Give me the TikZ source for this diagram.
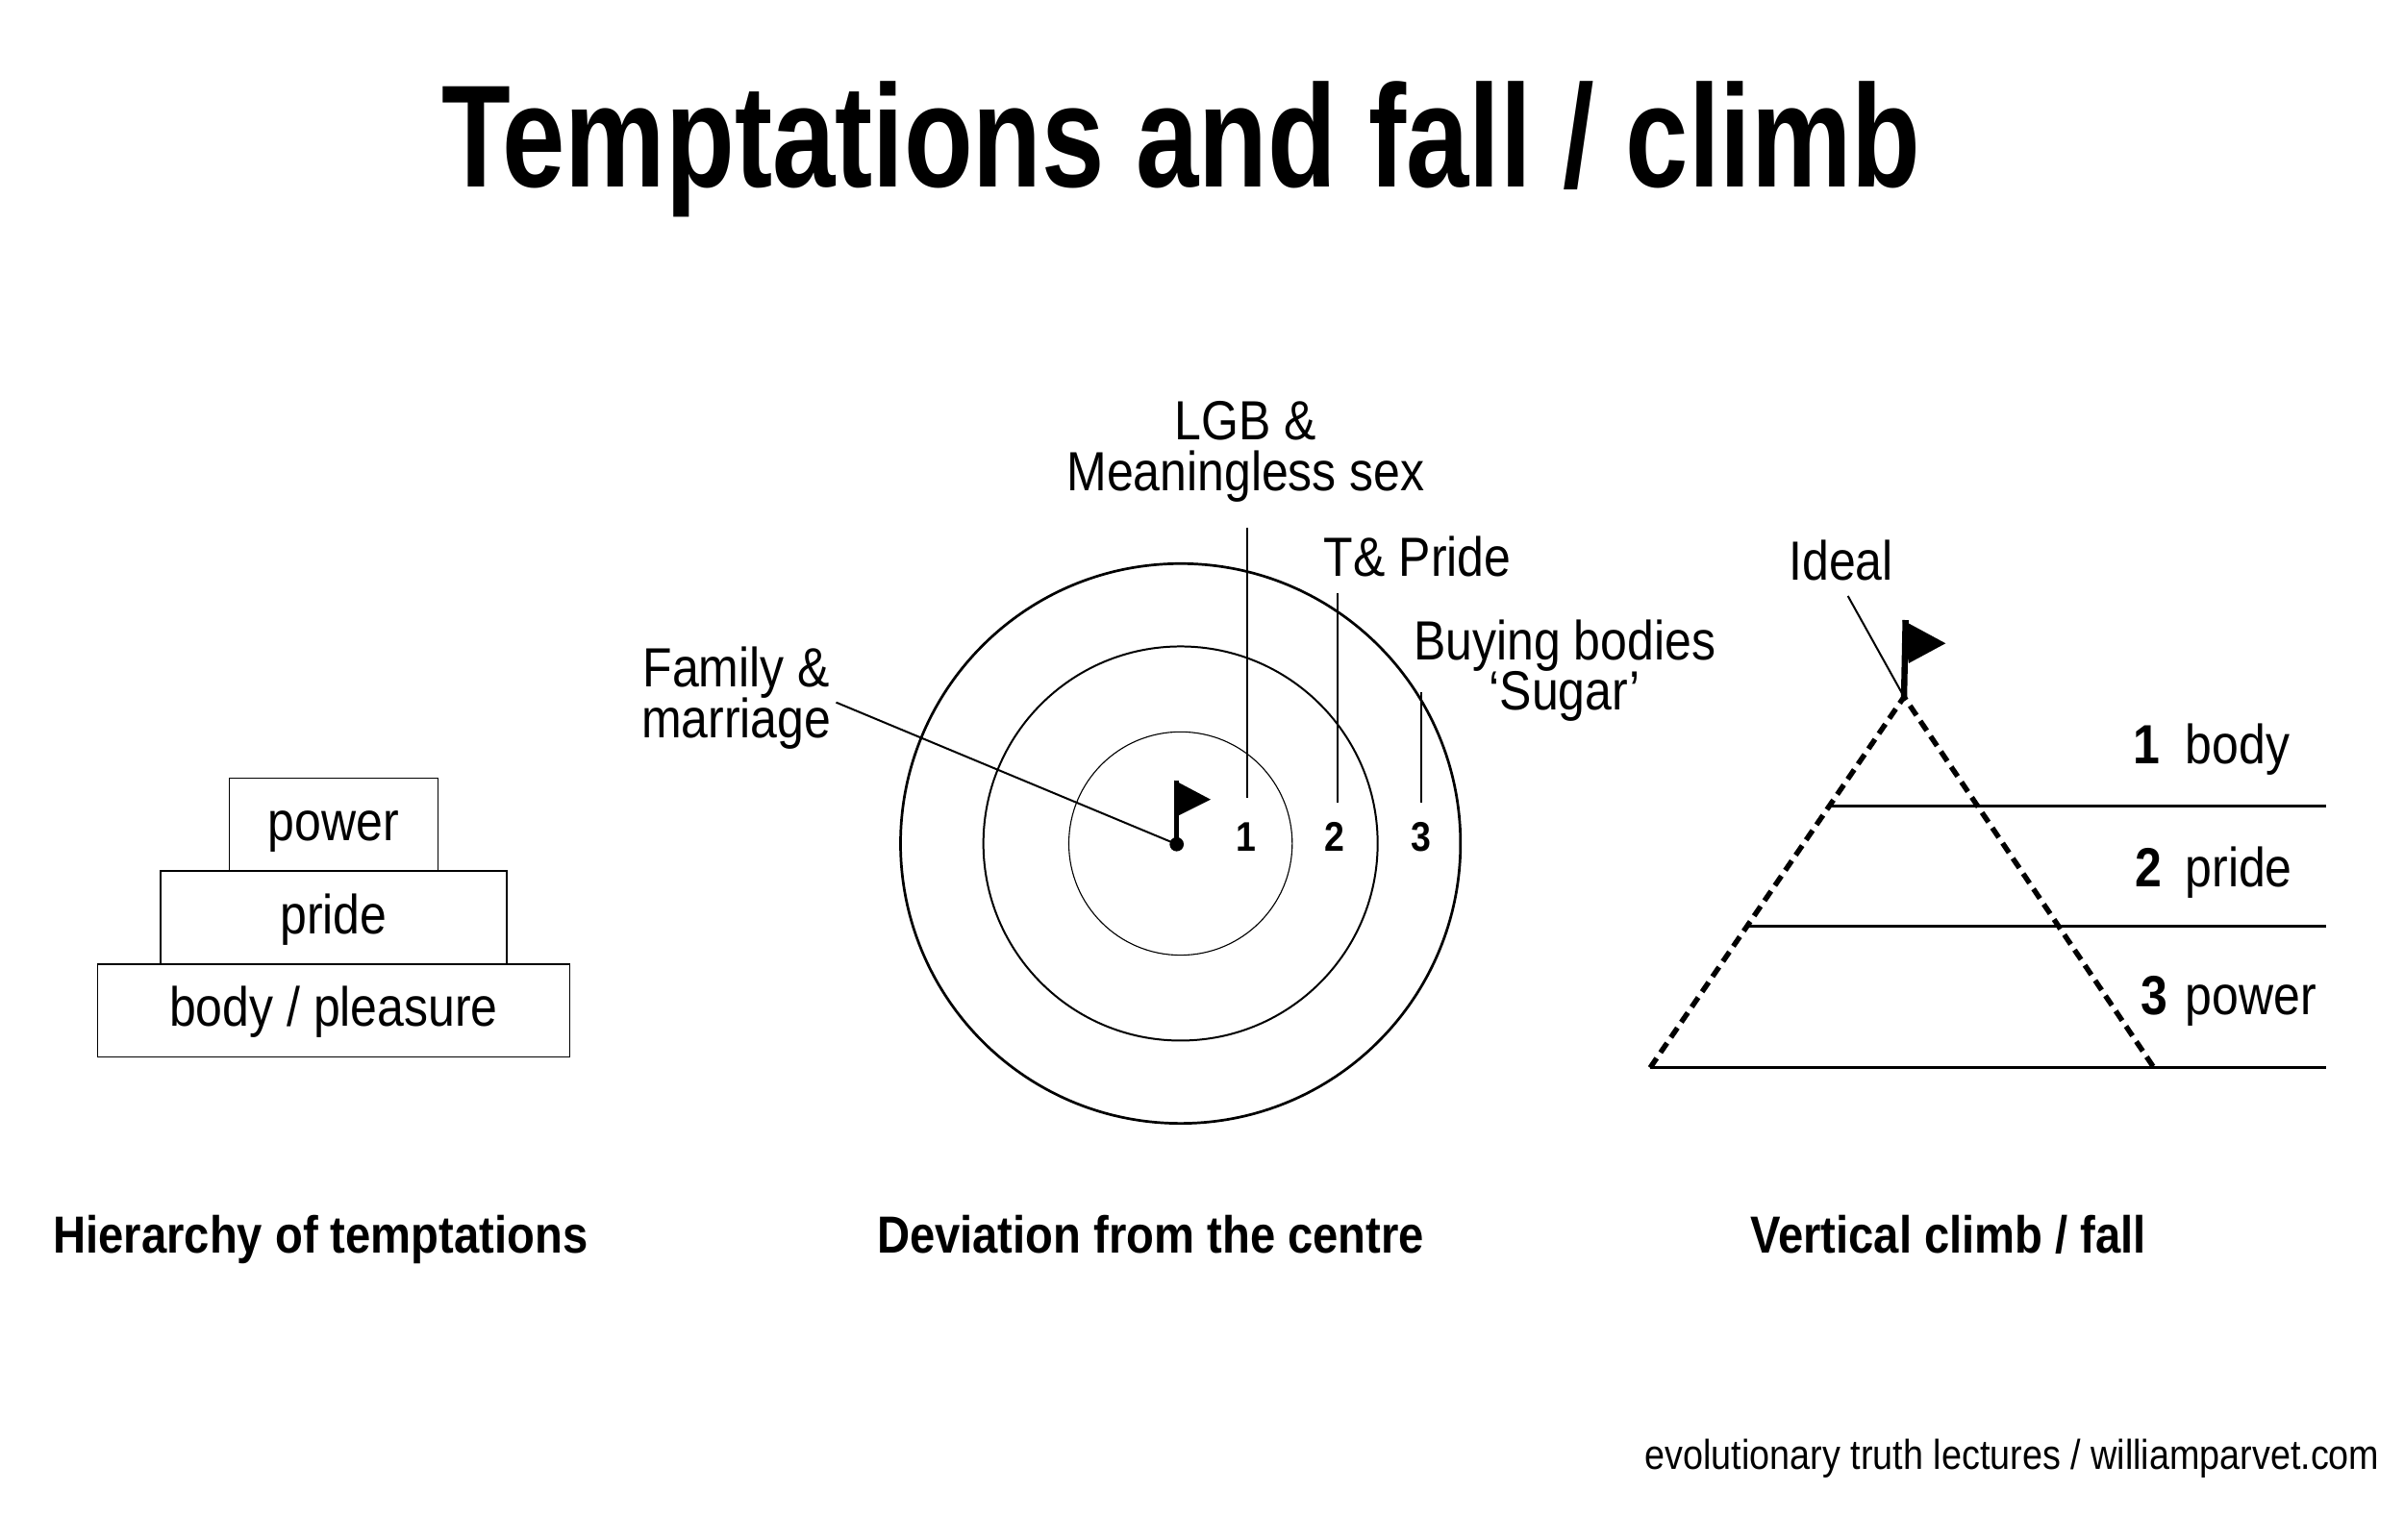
\documentclass[tikz,border=0pt]{standalone}
\usepackage{fontspec}
\setmainfont[FakeStretch=0.87]{Liberation Sans}
\newfontfamily\titlefont[FakeStretch=0.775]{Liberation Sans}

\begin{document}
\begin{tikzpicture}[x=1pt,y=1pt]
\definecolor{fillColor}{RGB}{255,255,255}
\definecolor{drawColor}{RGB}{0,0,0}
\tikzset{
  lbl/.style={text=drawColor,anchor=base,inner sep=0pt,outer sep=0pt,font=\fontsize{36}{40}\selectfont},
  captxt/.style={lbl,font=\fontsize{34}{40}\selectfont\bfseries},
  num/.style={lbl,font=\fontsize{27}{30}\selectfont\bfseries},
  bignum/.style={lbl,font=\fontsize{36}{40}\selectfont\bfseries},
  tier/.style={draw=drawColor,line width=1.0pt,inner sep=0pt,outer sep=0pt,text height=26pt,text depth=5pt,font=\fontsize{36}{40}\selectfont},
  leader/.style={draw=drawColor,line width=1.25pt},
  rung/.style={draw=drawColor,line width=1.9pt}
}
\path[use as bounding box,fill=fillColor] (0,-4.1) rectangle (1567,1000);

\node[lbl,font=\titlefont\bfseries\fontsize{95}{100}\selectfont] (title) at (770,878) {Temptations and fall / climb};

\node[tier,minimum width=136.2pt,minimum height=60.6pt] (power) at (217.5,462.4) {power};
\node[tier,minimum width=226pt,minimum height=60.6pt] (pride) at (217.5,401.8) {pride};
\node[tier,minimum width=307.6pt,minimum height=60.6pt] (body) at (217.5,341.2) {body / pleasure};

\node[captxt] (hier) at (209,183) {Hierarchy of temptations};
\node[captxt] (devi) at (750,183) {Deviation from the centre};
\node[captxt] (vert) at (1270,183) {Vertical climb / fall};

\coordinate (rings) at (769.5,450);
\coordinate (centre) at (767,449.5);
\path[draw=drawColor,line width=1.7pt] (rings) circle (182.5);
\path[draw=drawColor,line width=1.25pt] (rings) circle (128.5);
\path[draw=drawColor,line width=0.7pt] (rings) circle (72.8);

\node[num] (n1) at (812.3,444.7) {1};
\node[num] (n2) at (870.2,444.7) {2};
\node[num] (n3) at (926.2,444.7) {3};

\node[lbl] (lgb) at (812,713) {LGB \&};
\node[lbl] (sex) at (812,680) {Meaningless sex};
\node[lbl] (tpride) at (924,624) {T\& Pride};
\node[lbl] (buying) at (1020,570) {Buying bodies};
\node[lbl] (sugar) at (1020,537) {‘Sugar’};
\node[lbl] (family) at (480,552) {Family \&};
\node[lbl] (marriage) at (480,519) {marriage};

\coordinate (lead1a) at (813.2,656);
\coordinate (lead1b) at (813.2,479.8);
\coordinate (lead2a) at (871.7,613);
\coordinate (lead2b) at (871.7,476.6);
\coordinate (lead3a) at (926.6,549);
\coordinate (lead3b) at (926.6,476.6);
\coordinate (leadf) at (545,542);
\path[leader] (lead1a) -- (lead1b);
\path[leader] (lead2a) -- (lead2b);
\path[leader] (lead3a) -- (lead3b);
\path[leader] (leadf) -- (centre);

\path[draw=drawColor,line width=3pt] (centre) -- (767,491.2);
\path[fill=drawColor] (765.5,491.2) -- (789.1,478.7) -- (768.3,468.3) -- cycle;
\path[fill=drawColor] (centre) circle (4.6);

\coordinate (apex) at (1241.1,545.6);
\coordinate (bl) at (1075.6,303.8);
\coordinate (br) at (1404,303.8);
\path[draw=drawColor,line width=3.4pt,dash pattern=on 7.5pt off 4.5pt] (bl) -- (apex) -- (br);

\coordinate (r1) at (1192.4,474.5);
\coordinate (r2) at (1138.6,395.8);
\coordinate (e1) at (1516.4,474.5);
\coordinate (e2) at (1516.4,395.8);
\coordinate (e3) at (1516.4,303.8);
\path[rung] (r1) -- (e1);
\path[rung] (r2) -- (e2);
\path[rung] (bl) -- (e3);

\path[draw=drawColor,line width=4pt] (apex) -- (1242.1,595.7);
\path[fill=drawColor] (1240.1,595.7) -- (1268.2,580.5) -- (1244.1,567.5) -- cycle;

\node[lbl] (ideal) at (1200,622) {Ideal};
\coordinate (leadi) at (1204.5,611.4);
\path[leader] (leadi) -- (apex);

\node[bignum] (t1) at (1399.2,501.7) {1};
\node[lbl,anchor=base west] (tbody) at (1424.5,501.7) {body};
\node[bignum] (t2) at (1400.3,421.7) {2};
\node[lbl,anchor=base west] (tpr) at (1424.5,421.7) {pride};
\node[bignum] (t3) at (1404.4,338.1) {3};
\node[lbl,anchor=base west] (tpow) at (1424.5,338.1) {power};

\node[lbl,anchor=base east,font=\fontsize{27.2}{32}\selectfont] (foot) at (1551,42) {evolutionary truth lectures / williamparvet.com};
\end{tikzpicture}
\end{document}
